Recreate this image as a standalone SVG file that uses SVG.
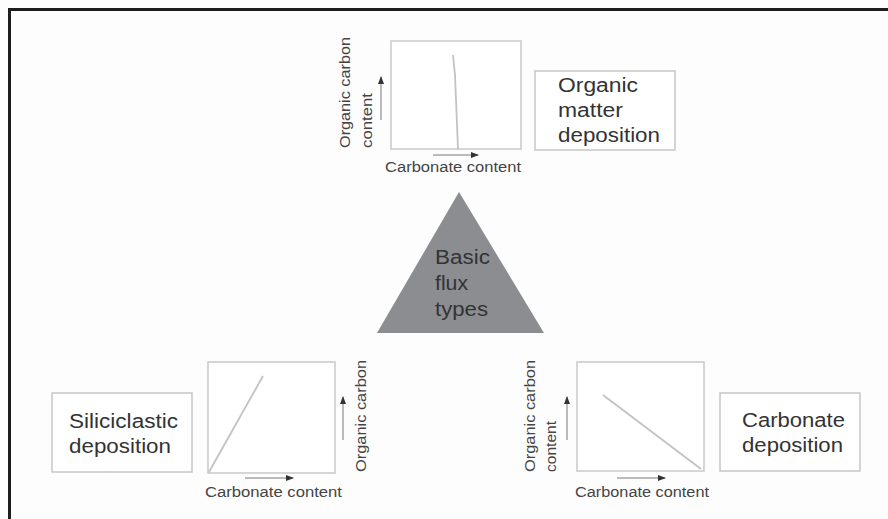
<svg xmlns="http://www.w3.org/2000/svg" width="888" height="519" viewBox="0 0 888 519">
<style>
.bg{fill:#fdfdfd}
.frame{fill:none;stroke:#1e1e1e;stroke-width:3}
.box{fill:#fff;stroke:#c6c6c6;stroke-width:1.5}
.plot{fill:#fff;stroke:#c9c9c9;stroke-width:1.5}
.curve{fill:none;stroke:#c2c2c2;stroke-width:1.8}
.axis{fill:none;stroke:#555;stroke-width:0.8}
.t{font-family:"Liberation Sans",Arial,sans-serif;fill:#333}
.big{font-size:20px}
.sm{font-size:14px;fill:#444}
.tri{fill:#8b8d90}
</style>
<defs>
<marker id="ah" markerWidth="8" markerHeight="6" refX="7" refY="3" orient="auto" markerUnits="userSpaceOnUse">
<path d="M0,0 L8,3 L0,6 Z" fill="#333"/>
</marker>
</defs>
<rect class="bg" x="0" y="0" width="888" height="519"/>
<path class="frame" d="M9.5,519 L9.5,9.5 L888,9.5"/>

<g id="top-plot">
<rect class="plot" x="391" y="41" width="130" height="108"/>
<polyline class="curve" points="453,55 455,75 458,149"/>
<text class="t sm" transform="translate(349.5,148) rotate(-90)" textLength="111" lengthAdjust="spacingAndGlyphs">Organic carbon</text>
<text class="t sm" transform="translate(372,148) rotate(-90)" textLength="55" lengthAdjust="spacingAndGlyphs">content</text>
<text class="t sm" x="385" y="172" textLength="136" lengthAdjust="spacingAndGlyphs">Carbonate content</text>
</g>

<g id="organic-matter">
<rect class="box" x="535" y="71" width="140" height="79"/>
<text class="t big" x="558" y="92" textLength="80" lengthAdjust="spacingAndGlyphs">Organic</text>
<text class="t big" x="558" y="117" textLength="65" lengthAdjust="spacingAndGlyphs">matter</text>
<text class="t big" x="558" y="142" textLength="102" lengthAdjust="spacingAndGlyphs">deposition</text>
</g>

<g id="basic-flux">
<polygon class="tri" points="459,192 377,333 544,333"/>
<text class="t big" x="435" y="264" textLength="55" lengthAdjust="spacingAndGlyphs">Basic</text>
<text class="t big" x="435" y="290" textLength="33" lengthAdjust="spacingAndGlyphs">flux</text>
<text class="t big" x="435" y="316" textLength="53" lengthAdjust="spacingAndGlyphs">types</text>
</g>

<g id="siliciclastic">
<rect class="box" x="52" y="393" width="140" height="79"/>
<text class="t big" x="69" y="428" textLength="109" lengthAdjust="spacingAndGlyphs">Siliciclastic</text>
<text class="t big" x="69" y="453" textLength="102" lengthAdjust="spacingAndGlyphs">deposition</text>
</g>

<g id="left-plot">
<rect class="plot" x="208" y="362" width="127" height="111"/>
<line class="curve" x1="209" y1="472" x2="263" y2="376"/>
<text class="t sm" transform="translate(366,472) rotate(-90)" textLength="112" lengthAdjust="spacingAndGlyphs">Organic carbon</text>
<text class="t sm" x="205" y="497" textLength="137" lengthAdjust="spacingAndGlyphs">Carbonate content</text>
</g>

<g id="right-plot">
<rect class="plot" x="577" y="362" width="127" height="109"/>
<line class="curve" x1="603" y1="395" x2="701" y2="469"/>
<text class="t sm" transform="translate(535,472) rotate(-90)" textLength="112" lengthAdjust="spacingAndGlyphs">Organic carbon</text>
<text class="t sm" transform="translate(555.5,472) rotate(-90)" textLength="51" lengthAdjust="spacingAndGlyphs">content</text>
<text class="t sm" x="575" y="497" textLength="134" lengthAdjust="spacingAndGlyphs">Carbonate content</text>
</g>

<g id="carbonate">
<rect class="box" x="720" y="393" width="140" height="78"/>
<text class="t big" x="742" y="427" textLength="103" lengthAdjust="spacingAndGlyphs">Carbonate</text>
<text class="t big" x="742" y="452" textLength="101" lengthAdjust="spacingAndGlyphs">deposition</text>
</g>

<g id="connectors">
<line class="axis" x1="381" y1="120" x2="381" y2="77" marker-end="url(#ah)"/>
<line class="axis" x1="433" y1="155" x2="478" y2="155" marker-end="url(#ah)"/>
<line class="axis" x1="343" y1="440" x2="343" y2="397" marker-end="url(#ah)"/>
<line class="axis" x1="245" y1="478" x2="293" y2="478" marker-end="url(#ah)"/>
<line class="axis" x1="567" y1="440" x2="567" y2="397" marker-end="url(#ah)"/>
<line class="axis" x1="617" y1="478" x2="665" y2="478" marker-end="url(#ah)"/>
</g>
</svg>
